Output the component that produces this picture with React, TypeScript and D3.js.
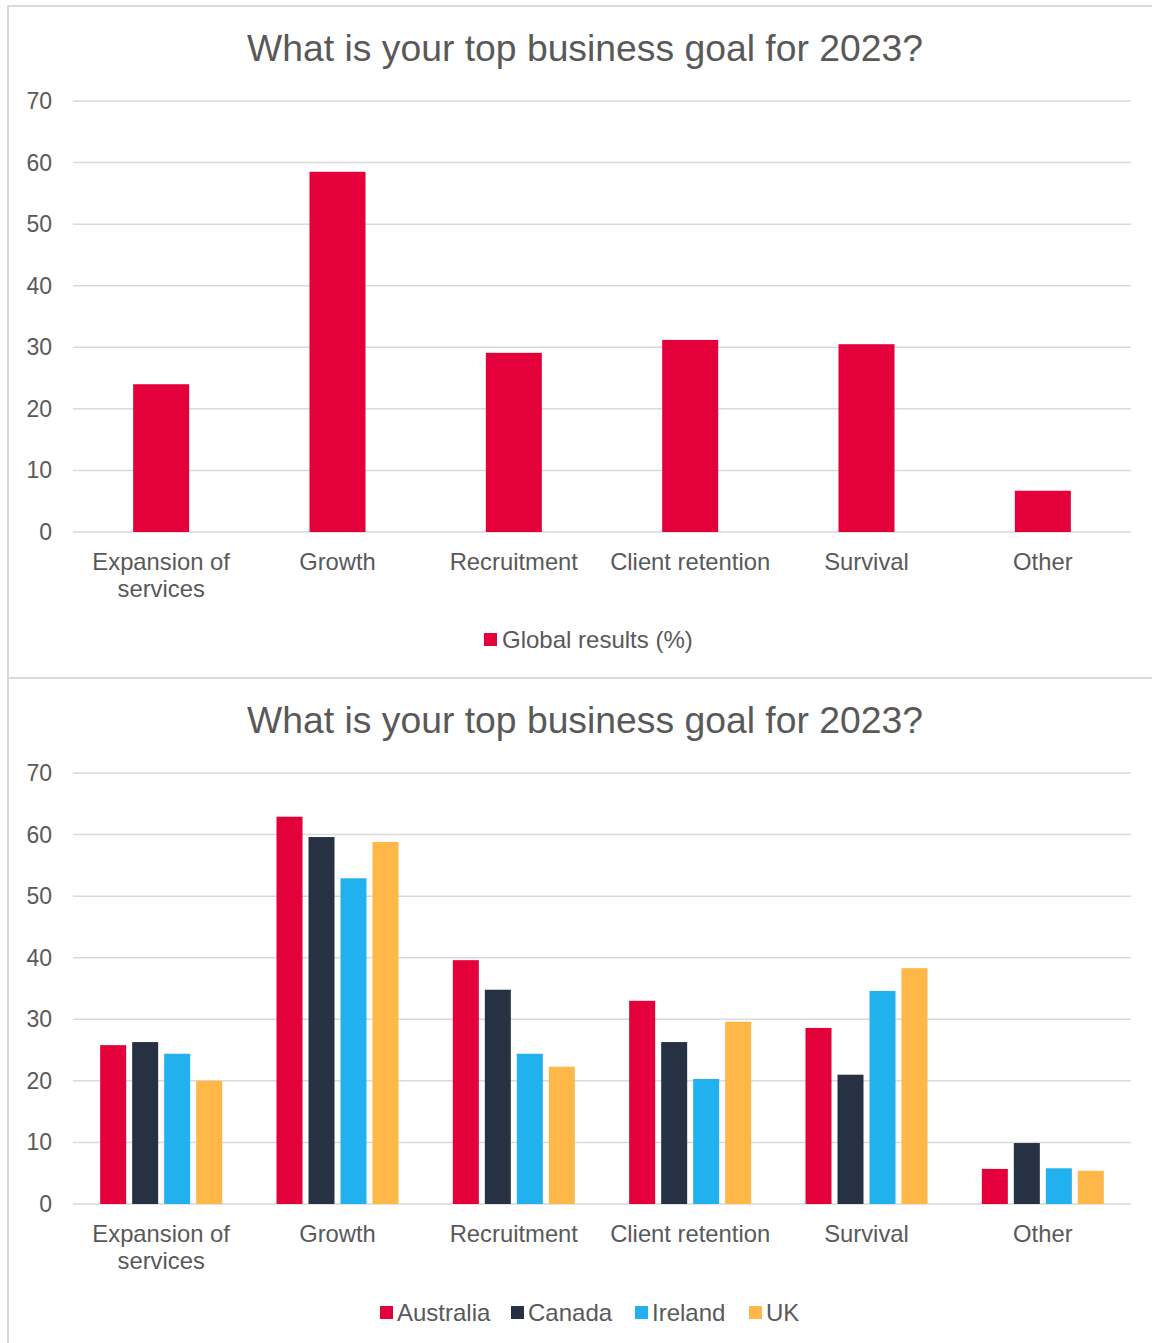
import * as d3 from "d3";

const categories = ["Expansion of services", "Growth", "Recruitment", "Client retention", "Survival", "Other"];
const categoryLines = [["Expansion of", "services"], ["Growth"], ["Recruitment"], ["Client retention"], ["Survival"], ["Other"]];
const globalResults = [24.0, 58.5, 29.1, 31.2, 30.5, 6.7];

const countries = ["Australia", "Canada", "Ireland", "UK"];
const australia = [25.8, 62.9, 39.6, 33.0, 28.6, 5.7];
const canada = [26.3, 59.6, 34.8, 26.3, 21.0, 9.9];
const ireland = [24.4, 52.9, 24.4, 20.3, 34.6, 5.8];
const uk = [20.0, 58.8, 22.3, 29.6, 38.3, 5.4];
const countryValues = [australia, canada, ireland, uk];
const countryColors = ["#E4003B", "#263244", "#22B1EF", "#FFB747"];

const yTicks = [0, 10, 20, 30, 40, 50, 60, 70];
const title = "What is your top business goal for 2023?";

const W = 1152;
const H = 1343;
const FONT = "'Liberation Sans', Arial, sans-serif";
const TEXT = "#595959";
const GRID = "#D9D9D9";

const plotLeft = 73;
const plotRight = 1131;

function Panel({ top, children }: { top: number; children: (y: d3.ScaleLinear<number, number>, x: d3.ScaleBand<string>) => any }) {
  const y = d3.scaleLinear().domain([0, 70]).range([top + 526, top + 95]);
  const x = d3.scaleBand<string>().domain(categories).range([plotLeft, plotRight]);
  return (
    <g>
      <text x={585} y={top + 55} textAnchor="middle" fontSize={37.3} fill={TEXT} fontFamily={FONT}>
        {title}
      </text>
      {yTicks.map((t) => (
        <g key={t}>
          <line x1={plotLeft} x2={plotRight} y1={y(t)} y2={y(t)} stroke={GRID} strokeWidth={1.5} />
          <text x={52} y={y(t)} dy="0.35em" textAnchor="end" fontSize={23} fill={TEXT} fontFamily={FONT}>
            {t}
          </text>
        </g>
      ))}
      {children(y, x)}
      {categories.map((c, i) => (
        <text key={c} x={x(c)! + x.bandwidth() / 2} y={top + 564} textAnchor="middle" fontSize={23.8} fill={TEXT} fontFamily={FONT}>
          {categoryLines[i].map((l, j) => (
            <tspan key={j} x={x(c)! + x.bandwidth() / 2} dy={j === 0 ? 0 : 27}>
              {l}
            </tspan>
          ))}
        </text>
      ))}
    </g>
  );
}

export default function App() {
  const top1 = 6;
  const top2 = 678;
  return (
    <svg width={W} height={H} style={{ position: "absolute", left: 0, top: 0 }}>
      <rect x={0} y={0} width={W} height={H} fill="#fff" />
      <rect x={8} y={top1} width={W + 20} height={top2 - top1} fill="#fff" stroke={GRID} strokeWidth={2} />
      <rect x={8} y={top2} width={W + 20} height={H + 20 - top2} fill="#fff" stroke={GRID} strokeWidth={2} />

      <Panel top={top1}>
        {(y, x) => (
          <g>
            {categories.map((c, i) => {
              const bw = 56;
              const cx = x(c)! + x.bandwidth() / 2;
              return <rect key={c} x={cx - bw / 2} y={y(globalResults[i])} width={bw} height={y(0) - y(globalResults[i])} fill={countryColors[0]} />;
            })}
          </g>
        )}
      </Panel>
      <g>
        <rect x={484} y={633} width={13} height={13} fill={countryColors[0]} />
        <text x={502} y={648} fontSize={24} fill={TEXT} fontFamily={FONT}>
          Global results (%)
        </text>
      </g>

      <Panel top={top2}>
        {(y, x) => (
          <g>
            {categories.map((c, i) => {
              const start = x(c)! + x.bandwidth() / 2 - 61;
              return countries.map((k, j) => (
                <rect
                  key={c + k}
                  x={start + j * 32}
                  y={y(countryValues[j][i])}
                  width={26}
                  height={y(0) - y(countryValues[j][i])}
                  fill={countryColors[j]}
                />
              ));
            })}
          </g>
        )}
      </Panel>
      <g>
        {countries.map((k, j) => {
          const xs = [380, 511, 635, 749][j];
          return (
            <g key={k}>
              <rect x={xs} y={1306} width={13} height={13} fill={countryColors[j]} />
              <text x={xs + 17} y={1321} fontSize={24} fill={TEXT} fontFamily={FONT}>
                {k}
              </text>
            </g>
          );
        })}
      </g>
    </svg>
  );
}
